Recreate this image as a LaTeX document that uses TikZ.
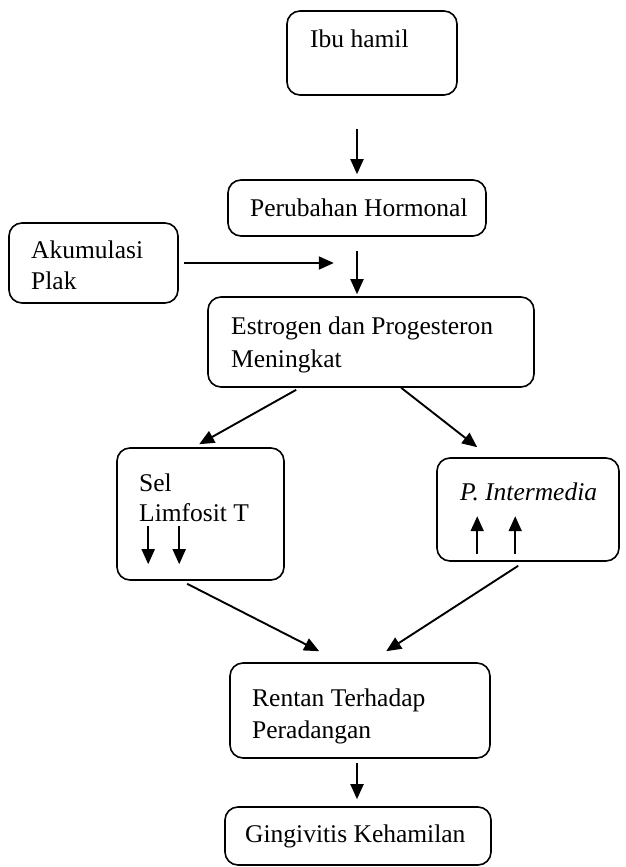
\documentclass[tikz,border=0pt]{standalone}
\usepackage{fontspec}
\setmainfont{Liberation Serif}
\usetikzlibrary{arrows.meta,calc}
\begin{document}
\begin{tikzpicture}[x=1pt,y=-1pt,
  box/.style={draw,rounded corners=13pt,line width=1.6pt,inner sep=0pt},
  txt/.style={anchor=base west,inner sep=0pt,font=\fontsize{25.5}{30}\selectfont},
  arr/.style={line width=1.9pt,-{Triangle[length=15pt,width=13pt]}}]
\useasboundingbox (0,0) rectangle (625,867);
\coordinate (colx) at (357,0);
% boxes
\node[box,minimum width=170pt,minimum height=84pt] (b1) at (372,53) {};
\node[box,minimum width=258pt,minimum height=56pt] (b2) at (357,208) {};
\node[box,minimum width=169pt,minimum height=80pt] (ak) at (93.5,263) {};
\node[box,minimum width=326pt,minimum height=90pt] (b3) at (371,342) {};
\node[box,minimum width=167pt,minimum height=132pt] (sel) at (200.5,514) {};
\node[box,minimum width=182pt,minimum height=103pt] (pi) at (528,509.5) {};
\node[box,minimum width=260pt,minimum height=95pt] (ren) at (360,710.5) {};
\node[box,minimum width=266pt,minimum height=58pt] (gin) at (358,836) {};
% texts
\node[txt] (t1) at (310,48) {Ibu hamil};
\node[txt] (t2) at (250,216) {Perubahan Hormonal};
\node[txt] (t3a) at (31,258) {Akumulasi};
\node[txt] (t3b) at (31,289) {Plak};
\node[txt] (t4a) at (231,334) {Estrogen dan Progesteron};
\node[txt] (t4b) at (231,367) {Meningkat};
\node[txt] (t5a) at (139,491) {Sel};
\node[txt] (t5b) at (139,521) {Limfosit T};
\node[txt] (t6) at (460,500) {\itshape P. Intermedia};
\node[txt] (t7a) at (252,706) {Rentan Terhadap};
\node[txt] (t7b) at (252,738) {Peradangan};
\node[txt] (t8) at (245,842) {Gingivitis Kehamilan};
% connectors
\draw[arr,shorten <=33pt,shorten >=5pt] (b1.south -| colx) -- (b2.north -| colx);
\draw[arr,shorten <=14pt,shorten >=2pt] (b2.south -| colx) -- (b3.north -| colx);
\draw[arr] ($(ak.east)+(5,0)$) -- ($(ak.east)+(155,0)$);
\draw[arr] ($(b3.south west)+(89,2)$) -- ($(sel.north west)+(83,-3)$);
\draw[arr] ($(b3.south west)+(194,0)$) -- ($(pi.north west)+(41,-10)$);
\draw[arr] ($(sel.south west)+(71,3)$) -- ($(ren.north west)+(90,-11)$);
\draw[arr] ($(pi.south west)+(82,4)$) -- ($(ren.north west)+(157,-11)$);
\draw[arr,shorten <=4pt,shorten >=7pt] (ren.south -| colx) -- (gin.north -| colx);
% small arrows inside boxes
\draw[arr] ($(sel.north west)+(32,79)$) -- ($(sel.north west)+(32,117)$);
\draw[arr] ($(sel.north west)+(63,79)$) -- ($(sel.north west)+(63,117)$);
\draw[arr] ($(pi.north west)+(41,97)$) -- ($(pi.north west)+(41,59)$);
\draw[arr] ($(pi.north west)+(79,97)$) -- ($(pi.north west)+(79,59)$);
\end{tikzpicture}
\end{document}
